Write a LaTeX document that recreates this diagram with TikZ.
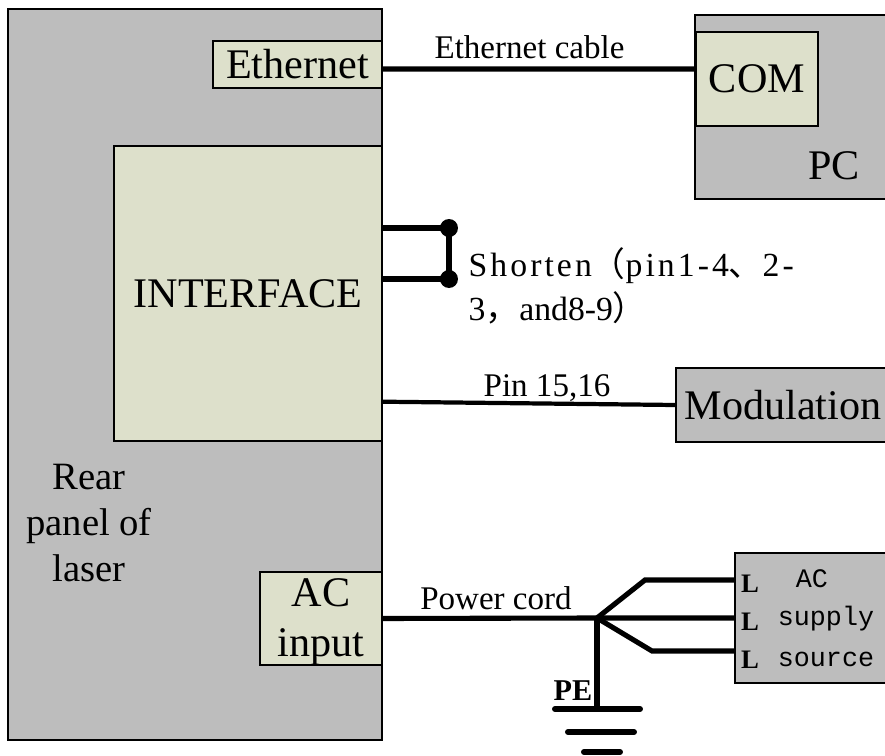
\documentclass[tikz,border=0pt]{standalone}
\usepackage{fontspec}
\setmainfont{Liberation Serif}
\setmonofont{Liberation Mono}
\newfontfamily\cjk{Noto Sans CJK SC}
\newfontfamily\spaced[LetterSpace=9]{Liberation Serif}
\usetikzlibrary{calc}

\definecolor{boxgrey}{HTML}{BDBDBD}
\definecolor{boxgreen}{HTML}{DDE0CB}

\begin{document}
\begin{tikzpicture}
    \tikzstyle{greybox} = [rectangle, draw=black, line width=.4pt, fill=boxgrey, inner sep=0pt]
    \tikzstyle{greenbox} = [rectangle, draw=black, line width=.4pt, fill=boxgreen, inner sep=0pt,
        font=\fontsize{12}{14}\selectfont, align=center]
    \tikzstyle{biglabel} = [inner sep=0pt, font=\fontsize{12}{14}\selectfont, align=center]
    \tikzstyle{wirelabel} = [inner sep=0pt, font=\fontsize{9.4}{11}\selectfont]
    \tikzstyle{monolabel} = [inner sep=0pt, font=\ttfamily\fontsize{7.6}{9}\selectfont]
    \tikzstyle{phase} = [inner sep=0pt, font=\bfseries\fontsize{7.6}{9}\selectfont]
    \tikzstyle{wire} = [line width=1.45pt]
    \tikzstyle{pindot} = [circle, fill=black, inner sep=0pt, minimum size=.18cm]
    \tikzstyle{earthbar} = [line width=1.7pt, line cap=round]

    \clip (0, 0) rectangle (8.85, -7.56);

    % Laser panel ----------------------------------------
    \node (panel) at (1.95, -3.745) [greybox, minimum width=3.74cm, minimum height=7.31cm] {};
    \node (ethernet) at (2.975, -.645) [greenbox, minimum width=1.69cm, minimum height=.47cm] {Ethernet};
    \node (interface) at (2.48, -2.935) [greenbox, minimum width=2.68cm, minimum height=2.95cm] {INTERFACE};
    \node (acinput) at (3.21, -6.185) [greenbox, minimum width=1.22cm, minimum height=.93cm] {};
    \node (aclabel) at (3.21, -6.22) [biglabel] {AC\\input};
    \node (rear) at (.89, -5.23) [biglabel, font=\fontsize{11}{13}\selectfont] {Rear\\panel of\\laser};
    % ---------------------------------------------------

    % PC
    \node (pc) at (8.05, -1.07) [greybox, minimum width=2.2cm, minimum height=1.84cm] {};
    \node (com) at (7.57, -.79) [greenbox, minimum width=1.22cm, minimum height=.94cm] {COM};
    \node (pclabel) at (8.34, -1.66) [biglabel] {PC};

    % Modulation
    \node (modulation) at (7.83, -4.05) [greybox, minimum width=2.14cm, minimum height=.74cm,
        font=\fontsize{12}{14}\selectfont] {Modulation};

    % AC source
    \node (acsource) at (8.2, -6.18) [greybox, minimum width=1.7cm, minimum height=1.3cm] {};
    \node (acword) at (8.12, -5.79) [monolabel] {AC};
    \node (supply) at (8.26, -6.19) [monolabel] {supply};
    \node (source) at (8.26, -6.59) [monolabel] {source};
    \node (l1) at (7.5, -5.84) [phase] {L};
    \node (l2) at (7.5, -6.22) [phase] {L};
    \node (l3) at (7.5, -6.6) [phase] {L};

    % Ethernet link
    \draw [wire] ($(ethernet.east) + (0, -.045)$) -- ($(com.west) + (0, .1)$);
    \node (cable) at (5.295, -.47) [wirelabel] {Ethernet cable};

    % Shorted pins
    \node (dota) at (4.49, -2.28) [pindot] {};
    \node (dotb) at (4.49, -2.79) [pindot] {};
    \draw [wire] (dota.center -| interface.east) -- (dota.center) -- (dotb.center) --
        (dotb.center -| interface.east);
    \node (shorten) at (4.68, -2.86) [anchor=west, inner sep=0pt, align=left,
        font=\fontsize{9.6}{12.6}\selectfont] {{\spaced Shorten}{\cjk （}{\spaced pin1-4}{\cjk 、}{\spaced 2-}\\
        3{\cjk ，}and8-9{\cjk ）}};

    % Modulation link
    \draw [wire, line width=1.2pt] ($(interface.south east) + (0, .4)$) -- (modulation.west);
    \node (pins) at (5.47, -3.88) [wirelabel] {Pin 15,16};

    % Power cord
    \coordinate (junction) at (5.97, -6.18);
    \coordinate (upper) at (6.45, -5.8);
    \coordinate (lower) at (6.52, -6.51);
    \coordinate (earth) at (5.97, -7.09);
    \draw [wire] (acinput.east) -- (junction) -- (acsource.west);
    \draw [wire] (junction) -- (upper) -- (upper -| acsource.west);
    \draw [wire] (junction) -- (lower) -- (lower -| acsource.west);
    \draw [wire] (junction) -- (earth);
    \node (cord) at (4.96, -5.98) [wirelabel] {Power cord};

    % Earth
    \node (pe) at (5.73, -6.91) [wirelabel, font=\bfseries\fontsize{8.6}{10}\selectfont] {PE};
    \draw [earthbar] ($(earth) + (-.42, 0)$) -- ($(earth) + (.43, 0)$);
    \draw [earthbar] ($(earth) + (-.29, -.23)$) -- ($(earth) + (.37, -.23)$);
    \draw [earthbar] ($(earth) + (-.13, -.43)$) -- ($(earth) + (.23, -.43)$);
\end{tikzpicture}
\end{document}
